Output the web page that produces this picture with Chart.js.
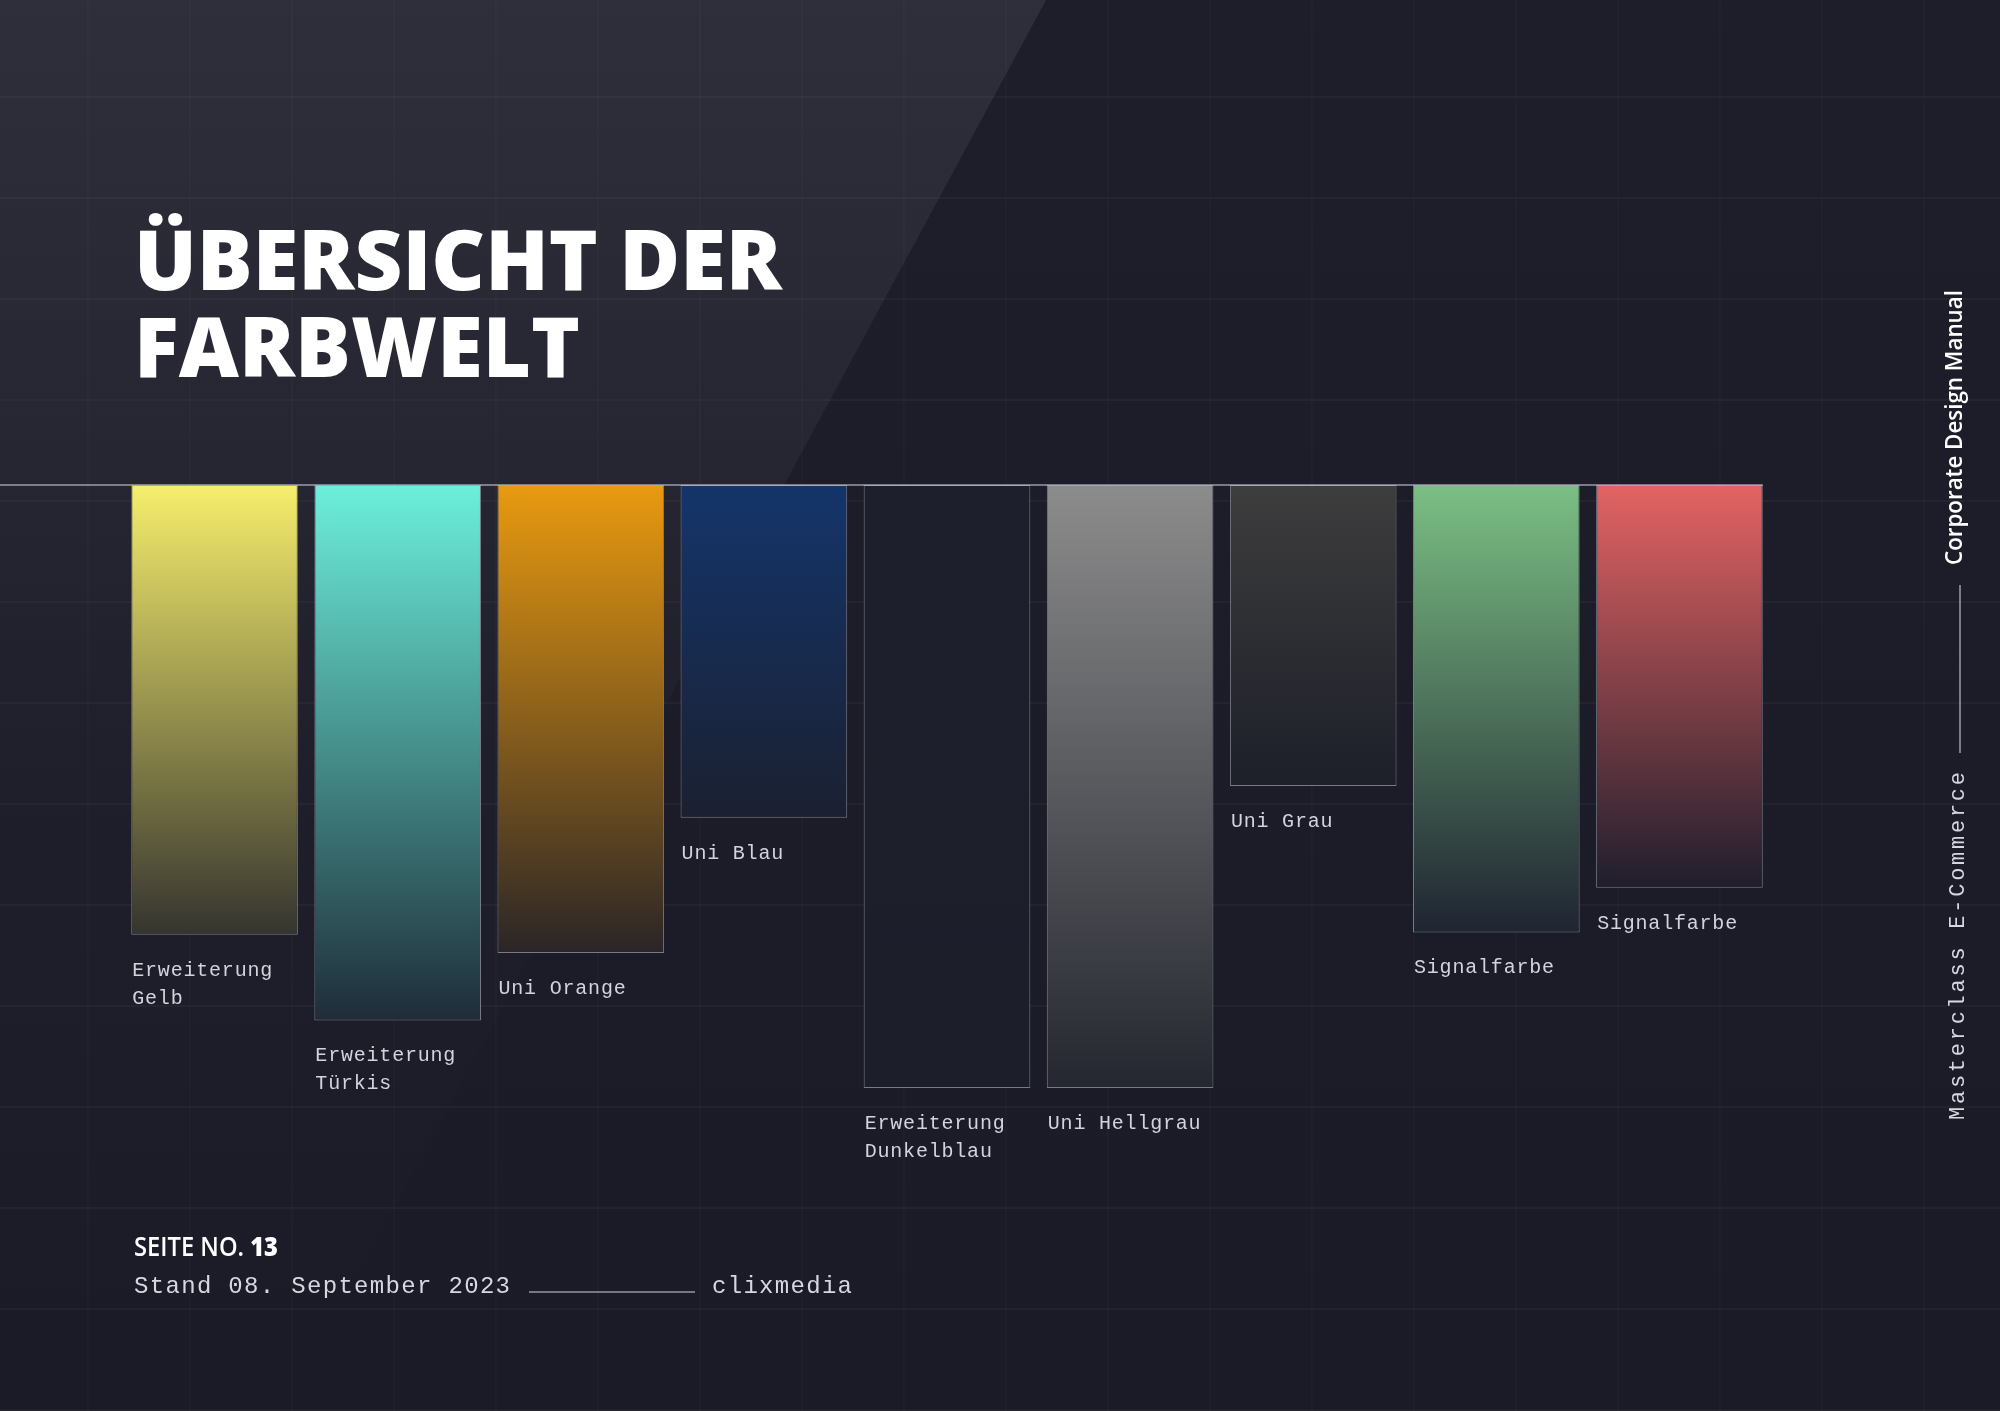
<!DOCTYPE html>
<html>
<head>
<meta charset="utf-8">
<script src="https://cdn.jsdelivr.net/npm/chart.js@4.4.0/dist/chart.umd.min.js"></script>
<style>
  html, body { margin: 0; padding: 0; background: #1b1c28; overflow: hidden; }
  #wrap { position: relative; width: 2000px; height: 1411px; }
</style>
</head>
<body>
<div id="wrap"><canvas id="farben" width="2000" height="1411"></canvas></div>
<script>
// Farbwelt - Kategorien und Tiefe der Balken (0 = Grundlinie oben)
const farbNamen = [
  ['Erweiterung', 'Gelb'],
  ['Erweiterung', 'Türkis'],
  ['Uni Orange'],
  ['Uni Blau'],
  ['Erweiterung', 'Dunkelblau'],
  ['Uni Hellgrau'],
  ['Uni Grau'],
  ['Signalfarbe'],
  ['Signalfarbe']
];
const farbTiefe = [74.6, 88.8, 77.6, 55.2, 100, 100, 49.9, 74.2, 66.8];

// Verlauf oben -> unten
const farbOben  = ['#f6ee6c', '#6cefdc', '#e99a10', '#14356b', '#1d1f2c', '#8c8c8c', '#3d3d3d', '#7bbf84', '#e36363'];
const farbUnten = ['#35342f', '#1f2c38', '#2a2527', '#1b2030', '#1c1e2a', '#252730', '#1d1f29', '#1f2431', '#1f1e2c'];

const monoFont = '"Liberation Mono", "DejaVu Sans Mono", monospace';
const sansFont = '"Open Sans", "Noto Sans", sans-serif';

function verlauf(c) {
  const chart = c.chart;
  const i = c.dataIndex;
  if (!chart.chartArea || !chart.scales.y) return farbOben[i];
  const y = chart.scales.y;
  const g = chart.ctx.createLinearGradient(0, y.getPixelForValue(0), 0, y.getPixelForValue(farbTiefe[i]));
  g.addColorStop(0, farbOben[i]);
  g.addColorStop(1, farbUnten[i]);
  return g;
}

// Text auf eine Breite bringen (Laufweite)
function sperrText(ctx, text, x, y, breite) {
  ctx.letterSpacing = '0px';
  const w = ctx.measureText(text).width;
  const sp = (breite - w) / Math.max(1, text.length - 1);
  ctx.letterSpacing = sp + 'px';
  ctx.fillText(text, x, y);
  ctx.letterSpacing = '0px';
}
// Text horizontal skalieren
function passText(ctx, text, x, y, breite) {
  const w = ctx.measureText(text).width;
  ctx.save();
  ctx.translate(x, y);
  ctx.scale(breite / w, 1);
  ctx.fillText(text, 0, 0);
  ctx.restore();
}

const hintergrund = {
  id: 'hintergrund',
  beforeDraw(chart) {
    const ctx = chart.ctx;
    const W = chart.width, H = chart.height;
    ctx.save();
    let g = ctx.createLinearGradient(0, 0, 0, H);
    g.addColorStop(0, '#1d1e2a');
    g.addColorStop(1, '#1a1b26');
    ctx.fillStyle = g;
    ctx.fillRect(0, 0, W, H);

    // helle Schraege oben links
    g = ctx.createLinearGradient(0, 0, 0, H);
    g.addColorStop(0, 'rgba(255,255,255,0.075)');
    g.addColorStop(0.34, 'rgba(255,255,255,0.04)');
    g.addColorStop(0.55, 'rgba(255,255,255,0.012)');
    g.addColorStop(1, 'rgba(255,255,255,0.0)');
    ctx.fillStyle = g;
    ctx.beginPath();
    ctx.moveTo(0, 0);
    ctx.lineTo(1046, 0);
    ctx.lineTo(284, H);
    ctx.lineTo(0, H);
    ctx.closePath();
    ctx.fill();

    // feines Raster
    ctx.lineWidth = 2;
    ctx.strokeStyle = 'rgba(255,255,255,0.016)';
    for (let x = 88; x < W; x += 102) {
      ctx.beginPath(); ctx.moveTo(x, 0); ctx.lineTo(x, H); ctx.stroke();
    }
    ctx.strokeStyle = 'rgba(255,255,255,0.03)';
    for (let y = 97; y < H; y += 101) {
      ctx.beginPath(); ctx.moveTo(0, y); ctx.lineTo(W, y); ctx.stroke();
    }
    ctx.restore();
  }
};

const beschriftung = {
  id: 'beschriftung',
  afterDatasetsDraw(chart) {
    const ctx = chart.ctx;
    const meta = chart.getDatasetMeta(0);
    const y0 = chart.scales.y.getPixelForValue(0);
    const last = meta.data[meta.data.length - 1];
    ctx.save();
    // Grundlinie
    ctx.strokeStyle = 'rgba(205,208,222,0.7)';
    ctx.lineWidth = 1.5;
    ctx.beginPath();
    ctx.moveTo(0, y0);
    ctx.lineTo(last.x + last.width / 2, y0);
    ctx.stroke();

    // Namen unter den Balken
    ctx.fillStyle = '#d2d3db';
    ctx.font = '20px ' + monoFont;
    ctx.letterSpacing = '0.8px';
    ctx.textBaseline = 'alphabetic';
    meta.data.forEach((bar, i) => {
      const left = bar.x - bar.width / 2 + 1;
      const unten = Math.max(bar.y, bar.base);
      farbNamen[i].forEach((zeile, k) => {
        ctx.fillText(zeile, left, unten + 41 + k * 28);
      });
    });
    ctx.letterSpacing = '0px';
    ctx.restore();
  },
  afterDraw(chart) {
    const ctx = chart.ctx;
    ctx.save();
    ctx.fillStyle = '#ffffff';
    ctx.textBaseline = 'alphabetic';

    // Titel
    ctx.font = '800 84px ' + sansFont;
    passText(ctx, 'ÜBERSICHT DER', 134, 290, 648);
    passText(ctx, 'FARBWELT', 134, 377, 446);

    // Seite
    ctx.font = '600 27px ' + sansFont;
    const teil = 'SEITE NO. ';
    const w1 = ctx.measureText(teil).width;
    ctx.font = '800 27px ' + sansFont;
    const w2 = ctx.measureText('13').width;
    const sx = 144 / (w1 + w2);
    ctx.save();
    ctx.translate(134, 1256);
    ctx.scale(sx, 1);
    ctx.font = '600 27px ' + sansFont;
    ctx.fillText(teil, 0, 0);
    ctx.font = '800 27px ' + sansFont;
    ctx.fillText('13', w1, 0);
    ctx.restore();

    // Stand
    ctx.fillStyle = '#d6d7df';
    ctx.font = '24px ' + monoFont;
    sperrText(ctx, 'Stand 08. September 2023', 134, 1293, 376);
    sperrText(ctx, 'clixmedia', 712, 1293, 140);
    ctx.strokeStyle = 'rgba(200,202,214,0.7)';
    ctx.lineWidth = 1.5;
    ctx.beginPath();
    ctx.moveTo(529, 1292);
    ctx.lineTo(695, 1292);
    ctx.stroke();

    // rechte Seite, gedreht
    ctx.save();
    ctx.translate(1962, 565);
    ctx.rotate(-Math.PI / 2);
    ctx.fillStyle = '#ffffff';
    ctx.font = '600 23px ' + sansFont;
    passText(ctx, 'Corporate Design Manual', 0, 0, 275);
    ctx.restore();

    ctx.strokeStyle = 'rgba(210,212,224,0.7)';
    ctx.lineWidth = 1.5;
    ctx.beginPath();
    ctx.moveTo(1960, 585);
    ctx.lineTo(1960, 753);
    ctx.stroke();

    ctx.save();
    ctx.translate(1964, 1120);
    ctx.rotate(-Math.PI / 2);
    ctx.fillStyle = '#d6d7df';
    ctx.font = '22px ' + monoFont;
    sperrText(ctx, 'Masterclass E-Commerce', 0, 0, 348);
    ctx.restore();

    ctx.restore();
  }
};

new Chart(document.getElementById('farben'), {
  type: 'bar',
  data: {
    labels: farbNamen.map(n => n.join(' ')),
    datasets: [{
      data: farbTiefe,
      backgroundColor: verlauf,
      borderColor: 'rgba(196,200,214,0.55)',
      borderWidth: 1,
      borderSkipped: false,
      barPercentage: 0.91,
      categoryPercentage: 1
    }]
  },
  options: {
    responsive: false,
    animation: false,
    devicePixelRatio: 1,
    layout: { padding: { left: 123, right: 229, top: 485, bottom: 323 } },
    scales: {
      x: { display: false },
      y: { display: false, reverse: true, min: 0, max: 100 }
    },
    plugins: {
      legend: { display: false },
      tooltip: { enabled: false }
    }
  },
  plugins: [hintergrund, beschriftung]
});
</script>
</body>
</html>
